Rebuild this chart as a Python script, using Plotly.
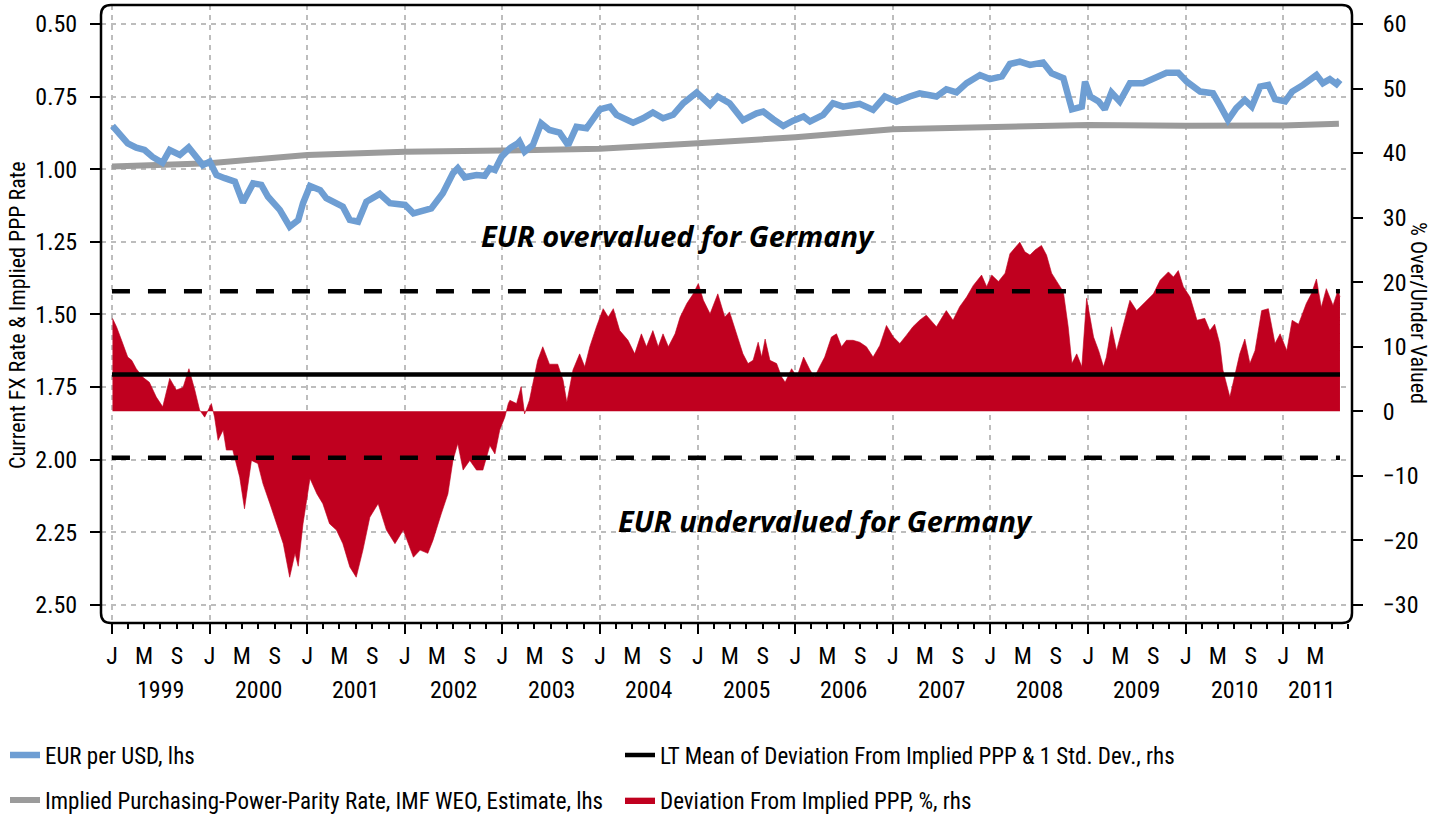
import plotly.graph_objects as go

# ---------------- data ----------------
fx_dates = ["1999-01-03","1999-01-30","1999-03-01","1999-04-02","1999-05-03","1999-06-02","1999-07-09","1999-08-05","1999-09-12","1999-10-15","1999-11-13","1999-12-07",
"2000-01-02","2000-01-27","2000-02-27","2000-04-05","2000-05-05","2000-06-12","2000-07-13","2000-08-07","2000-09-20","2000-10-27","2000-11-28","2000-12-16",
"2001-01-11","2001-02-18","2001-03-13","2001-04-20","2001-05-14","2001-06-09","2001-07-10","2001-08-10","2001-09-29","2001-11-06","2001-12-13",
"2002-01-02","2002-02-02","2002-03-09","2002-04-10","2002-05-23","2002-06-30","2002-07-18","2002-08-13","2002-09-26","2002-10-27","2002-11-15","2002-12-04","2002-12-29",
"2003-01-29","2003-02-28","2003-03-06","2003-03-25","2003-04-25","2003-05-26","2003-06-26","2003-08-03","2003-09-04","2003-10-05","2003-11-12",
"2004-01-01","2004-02-08","2004-03-03","2004-05-04","2004-06-10","2004-07-17","2004-08-24","2004-10-01","2004-11-08","2004-12-28",
"2005-02-16","2005-03-17","2005-04-30","2005-06-19","2005-08-09","2005-09-03","2005-10-10","2005-11-17","2005-12-24",
"2006-02-01","2006-02-25","2006-04-15","2006-05-22","2006-06-29","2006-08-30","2006-10-19","2006-12-02",
"2007-01-15","2007-03-05","2007-04-11","2007-06-13","2007-07-20","2007-08-27","2007-10-04","2007-11-23","2007-12-30",
"2008-02-13","2008-03-14","2008-04-20","2008-05-28","2008-07-16","2008-08-17","2008-09-30","2008-11-01","2008-12-08","2008-12-20",
"2009-01-09","2009-02-09","2009-03-04","2009-03-29","2009-04-29","2009-06-06","2009-07-25","2009-09-14","2009-10-21","2009-12-04",
"2010-01-05","2010-02-24","2010-04-13","2010-05-08","2010-06-08","2010-07-09","2010-08-10","2010-09-05","2010-10-06","2010-11-06","2010-12-01",
"2011-01-08","2011-02-03","2011-03-16","2011-05-05","2011-05-29","2011-06-24","2011-07-19","2011-08-01"]
fx_vals = [0.851,0.876,0.911,0.926,0.934,0.958,0.978,0.934,0.951,0.925,0.962,0.986,
0.974,1.020,1.031,1.043,1.115,1.049,1.054,1.095,1.140,1.198,1.175,1.117,
1.058,1.072,1.100,1.117,1.129,1.175,1.181,1.112,1.085,1.117,1.123,
1.123,1.152,1.146,1.135,1.083,1.014,0.997,1.028,1.020,1.023,0.997,1.003,0.957,
0.928,0.911,0.905,0.940,0.917,0.842,0.865,0.874,0.917,0.854,0.859,
0.794,0.785,0.813,0.840,0.825,0.805,0.825,0.813,0.773,0.736,
0.779,0.750,0.773,0.831,0.808,0.802,0.828,0.851,0.833,
0.819,0.836,0.813,0.773,0.785,0.775,0.796,0.750,
0.768,0.750,0.739,0.750,0.725,0.736,0.704,0.676,0.690,
0.681,0.638,0.630,0.641,0.633,0.670,0.687,0.794,0.785,0.699,
0.750,0.767,0.794,0.736,0.767,0.704,0.704,0.681,0.668,0.668,
0.699,0.733,0.739,0.779,0.831,0.790,0.762,0.785,0.716,0.710,0.759,
0.767,0.733,0.710,0.676,0.704,0.690,0.707,0.693]

ppp_dates = ["1999-01-01","2000-01-01","2001-01-01","2002-01-01","2003-01-01","2004-01-01","2005-01-01",
             "2006-01-01","2007-01-01","2008-01-01","2009-01-01","2010-01-01","2011-01-01","2011-07-28"]
ppp_vals = [0.991,0.980,0.951,0.940,0.936,0.930,0.911,0.890,0.863,0.856,0.848,0.851,0.850,0.844]

dev_dates = ["1999-01-03","1999-01-18","1999-02-06","1999-03-01","1999-03-16","1999-04-02","1999-04-26","1999-05-21","1999-06-16","1999-07-10","1999-08-05","1999-08-30","1999-09-24","1999-10-16","1999-11-07","1999-11-25","1999-12-14",
"2000-01-08","2000-01-20","2000-02-02","2000-02-21","2000-03-04","2000-03-28","2000-04-23","2000-05-11","2000-06-06","2000-06-30","2000-07-19","2000-08-14","2000-09-08","2000-10-03","2000-10-27","2000-11-16","2000-11-28","2000-12-16",
"2001-01-11","2001-02-06","2001-02-28","2001-03-25","2001-04-20","2001-05-14","2001-06-09","2001-07-03","2001-07-28","2001-08-23","2001-09-23","2001-10-24","2001-11-25","2001-12-26",
"2002-02-02","2002-02-27","2002-03-28","2002-04-16","2002-05-17","2002-06-11","2002-06-30","2002-07-18","2002-08-07","2002-09-01","2002-09-26","2002-10-20","2002-11-15","2002-12-04","2002-12-22","2003-01-10","2003-01-23",
"2003-01-29","2003-02-23","2003-03-12","2003-03-25","2003-04-12","2003-05-13","2003-06-01","2003-06-26","2003-07-27","2003-08-16","2003-08-30","2003-09-22","2003-10-17","2003-11-05","2003-11-24","2003-12-19",
"2004-01-13","2004-02-01","2004-02-20","2004-03-15","2004-04-15","2004-05-10","2004-06-04","2004-06-23","2004-07-17","2004-08-06","2004-08-24","2004-09-13","2004-10-08","2004-10-27","2004-11-21","2004-12-15",
"2005-01-03","2005-01-22","2005-02-16","2005-03-17","2005-04-12","2005-04-30","2005-05-25","2005-06-19","2005-07-08","2005-07-27","2005-08-15","2005-08-28","2005-09-10","2005-09-28","2005-10-23","2005-11-11","2005-11-24","2005-12-18",
"2006-01-07","2006-02-01","2006-02-25","2006-03-14","2006-04-02","2006-04-21","2006-05-16","2006-06-04","2006-06-23","2006-07-11","2006-08-05","2006-08-30","2006-09-24","2006-10-19","2006-11-13","2006-12-08",
"2007-01-03","2007-01-27","2007-02-21","2007-03-17",
"2007-04-11","2007-05-06","2007-06-13","2007-07-20","2007-08-14","2007-09-08","2007-10-04","2007-10-29","2007-11-29","2007-12-18",
"2008-01-06","2008-01-31","2008-02-25","2008-03-14","2008-04-20","2008-05-09","2008-05-28","2008-06-16","2008-07-10","2008-07-29","2008-08-17","2008-09-05","2008-09-30","2008-10-18","2008-11-01","2008-11-19","2008-12-08","2008-12-26",
"2009-01-21","2009-02-09","2009-02-27","2009-03-10","2009-03-29","2009-04-17","2009-05-11","2009-06-06","2009-07-01","2009-08-08","2009-09-02","2009-09-27","2009-10-28","2009-11-16","2009-12-04","2009-12-23",
"2010-01-17","2010-02-12","2010-03-13","2010-04-01","2010-04-19","2010-05-08","2010-05-20","2010-06-15","2010-07-03","2010-07-22","2010-08-10","2010-08-29","2010-09-17","2010-10-12","2010-11-06","2010-12-01","2010-12-20",
"2011-01-14","2011-02-03","2011-02-27","2011-03-28","2011-04-16","2011-05-05","2011-05-23","2011-06-11","2011-07-06","2011-07-25","2011-08-01"]
dev_vals = [14.4,13.1,11.0,8.4,7.9,6.6,5.3,4.5,2.2,0.7,5.1,3.3,3.7,6.6,3.3,0.2,-0.9,
1.2,-0.9,-4.5,-2.9,-6.0,-6.0,-10.2,-15.1,-7.6,-8.1,-11.2,-14.3,-17.4,-20.5,-25.7,-22.0,-24.0,-17.4,
-10.4,-12.8,-14.3,-17.4,-18.4,-20.5,-24.1,-25.7,-21.5,-16.4,-14.3,-18.4,-20.5,-18.4,
-22.6,-21.5,-22.0,-20.0,-15.9,-12.8,-7.6,-5.0,-9.1,-7.6,-9.1,-9.1,-5.3,-6.6,-2.9,-0.9,1.2,
1.7,1.2,3.8,-0.4,1.7,7.9,10.0,7.3,7.3,4.8,1.4,6.4,8.9,6.9,10.0,13.1,
15.9,14.6,15.9,12.5,11.0,8.9,12.0,10.0,12.5,10.0,12.0,10.0,12.0,14.6,16.7,18.2,
19.8,17.2,15.1,18.2,14.6,15.4,12.0,8.9,7.4,7.9,10.7,8.4,11.2,7.9,7.4,5.3,4.5,6.6,
5.3,8.4,6.4,5.3,6.9,8.4,11.5,12.0,10.0,11.0,11.0,10.7,10.0,8.4,10.2,13.3,
11.5,10.5,11.8,13.1,
14.1,14.9,13.1,15.6,14.1,16.2,17.7,19.5,21.1,19.3,
21.1,20.1,21.4,24.4,26.2,24.7,24.2,25.0,25.7,24.2,21.4,20.1,18.5,13.1,7.4,8.9,6.9,17.5,
11.5,9.4,6.9,8.4,13.1,9.4,13.1,17.2,15.6,17.2,18.2,20.3,21.6,20.8,21.8,19.3,
17.7,14.1,14.4,12.5,13.5,10.5,6.4,2.2,5.3,8.9,11.2,7.4,9.4,15.6,15.9,10.5,12.0,
9.4,14.1,13.5,16.7,18.2,20.5,16.1,19.0,16.4,18.8,17.7]

lt_mean = 5.7
lt_std = 12.9
lt_span = ["1999-01-01", "2011-08-01"]

left_ticks = [0.50, 0.75, 1.00, 1.25, 1.50, 1.75, 2.00, 2.25, 2.50]
right_ticks = [-30, -20, -10, 0, 10, 20, 30, 40, 50, 60]
years = list(range(1999, 2012))
month_letters = {1: "J", 5: "M", 9: "S"}
year_labels = [str(y) for y in years]
year_label_dates = [f"{y}-07-02" for y in years[:-1]] + ["2011-04-16"]

jms_vals, jms_text = [], []
for y in years:
    for m, t in month_letters.items():
        if y == 2011 and m > 5:
            continue
        jms_vals.append(f"{y}-{m:02d}-01")
        jms_text.append(t)
jan_vals = [f"{y}-01-01" for y in years]

# ---------------- style ----------------
FONT = "Liberation Sans Narrow, Roboto Condensed, DejaVu Sans Condensed, Arial Narrow, Liberation Sans, sans-serif"
BOLDIT = "Noto Sans, DejaVu Sans, sans-serif"
BLUE = "#6E9ED3"
GRAY = "#9B9B9B"
RED = "#C0001F"
GRID = "#BDBDBD"
W, H = 1441, 817
L, R, T, B = 101, 89, 5, 194
PW, PH = W - L - R, H - T - B


def py(px):
    """pixel row -> paper y"""
    return (T + PH - px) / PH


def px_(pxl):
    """pixel column -> paper x"""
    return (pxl - L) / PW


fig = go.Figure()
fig.add_trace(go.Scatter(x=dev_dates, y=dev_vals, yaxis="y2", mode="lines", fill="tozeroy",
                         line=dict(color=RED, width=0.6), fillcolor=RED,
                         name="Deviation From Implied PPP, %, rhs", legend="legend2", legendrank=2))
fig.add_trace(go.Scatter(x=lt_span, y=[lt_mean + lt_std] * 2, xaxis="x2", yaxis="y2", mode="lines",
                         line=dict(color="black", width=4.5, dash="18px,18px"), showlegend=False, hoverinfo="skip"))
fig.add_trace(go.Scatter(x=lt_span, y=[lt_mean - lt_std] * 2, xaxis="x2", yaxis="y2", mode="lines",
                         line=dict(color="black", width=4.5, dash="18px,18px"), showlegend=False, hoverinfo="skip"))
fig.add_trace(go.Scatter(x=lt_span, y=[lt_mean] * 2, xaxis="x2", yaxis="y2", mode="lines",
                         line=dict(color="black", width=4.5),
                         name="LT Mean of Deviation From Implied PPP & 1 Std. Dev., rhs", legend="legend", legendrank=2))
fig.add_trace(go.Scatter(x=ppp_dates, y=ppp_vals, mode="lines", line=dict(color=GRAY, width=6),
                         name="Implied Purchasing-Power-Parity Rate, IMF WEO, Estimate, lhs", legend="legend2", legendrank=1))
fig.add_trace(go.Scatter(x=fx_dates, y=fx_vals, mode="lines", line=dict(color=BLUE, width=6.5),
                         name="EUR per USD, lhs", legend="legend", legendrank=1))

x_range = ["1998-11-21", "2011-09-15"]
tick_common = dict(ticks="outside", tickcolor="black", tickwidth=1.5)

fig.update_layout(
    width=W, height=H,
    margin=dict(l=L, r=R, t=T, b=B, pad=0, autoexpand=False),
    plot_bgcolor="white", paper_bgcolor="white",
    font=dict(family=FONT, size=24, color="black"),
    xaxis=dict(type="date", range=x_range, tickmode="array", tickvals=jms_vals, ticktext=jms_text,
               ticklen=5, showgrid=False, zeroline=False, showline=False, ticklabelstandoff=6,
               automargin=False,
               minor=dict(ticks="outside", ticklen=5, tickwidth=1.5, tickcolor="black",
                          dtick="M2", tick0="1999-01-01", showgrid=False),
               **tick_common),
    xaxis2=dict(type="date", range=x_range, overlaying="x", anchor="y2", side="bottom",
                tickmode="array", tickvals=jan_vals, showticklabels=False, ticklen=10,
                showgrid=True, gridcolor=GRID, gridwidth=1.5, griddash="5px,5px", automargin=False,
                zeroline=False, showline=False, **tick_common),
    yaxis=dict(range=[2.562, 0.435], tickmode="array", tickvals=left_ticks, tickformat=".2f",
               ticklen=10, showgrid=True, gridcolor=GRID, gridwidth=1.5, griddash="5px,5px",
               zeroline=False, showline=False, ticklabelstandoff=8, automargin=False, **tick_common),
    yaxis2=dict(range=[-32.79, 62.94], overlaying="y", side="right", anchor="x",
                tickmode="array", tickvals=right_ticks, ticklen=10, showgrid=False, automargin=False,
                zeroline=False, showline=False, ticklabelstandoff=15, **tick_common),
    legend=dict(orientation="h", x=px_(5), y=py(755), xanchor="left", yanchor="middle",
                entrywidth=570, font=dict(size=23), bgcolor="rgba(0,0,0,0)", itemwidth=30),
    legend2=dict(orientation="h", x=px_(5), y=py(800), xanchor="left", yanchor="middle",
                 entrywidth=570, font=dict(size=23), bgcolor="rgba(0,0,0,0)", itemwidth=30),
    showlegend=True,
)

# rounded plot frame
rx, ry = 10 / PW, 10 / PH
frame = (f"M {rx},0 L {1-rx},0 Q 1,0 1,{ry} L 1,{1-ry} Q 1,1 {1-rx},1 "
         f"L {rx},1 Q 0,1 0,{1-ry} L 0,{ry} Q 0,0 {rx},0 Z")
fig.add_shape(type="path", path=frame, xref="paper", yref="paper",
              line=dict(color="black", width=2.5), layer="above")

# year labels
for lbl, d in zip(year_labels, year_label_dates):
    fig.add_annotation(x=d, y=py(690), xref="x", yref="paper", text=lbl,
                       showarrow=False, font=dict(size=24), xanchor="center", yanchor="middle")

# axis titles
fig.add_annotation(x=px_(18), y=py(315), xref="paper", yref="paper", textangle=-90,
                   xanchor="center", yanchor="middle",
                   text="Current FX Rate & Implied PPP Rate", showarrow=False, font=dict(size=22))
fig.add_annotation(x=px_(1419), y=py(313), xref="paper", yref="paper", textangle=90,
                   xanchor="center", yanchor="middle",
                   text="% Over/Under Valued", showarrow=False, font=dict(size=22))

# region labels
fig.add_annotation(x=px_(678), y=py(235), xref="paper", yref="paper",
                   xanchor="center", yanchor="middle",
                   text="EUR overvalued for Germany", showarrow=False,
                   font=dict(family=BOLDIT, size=29, weight="bold", style="italic"))
fig.add_annotation(x=px_(825), y=py(520), xref="paper", yref="paper",
                   xanchor="center", yanchor="middle",
                   text="EUR undervalued for Germany", showarrow=False,
                   font=dict(family=BOLDIT, size=29, weight="bold", style="italic"))

fig.write_html("out.html", config={"displayModeBar": False},
               post_script="document.body.style.margin='0px';")
